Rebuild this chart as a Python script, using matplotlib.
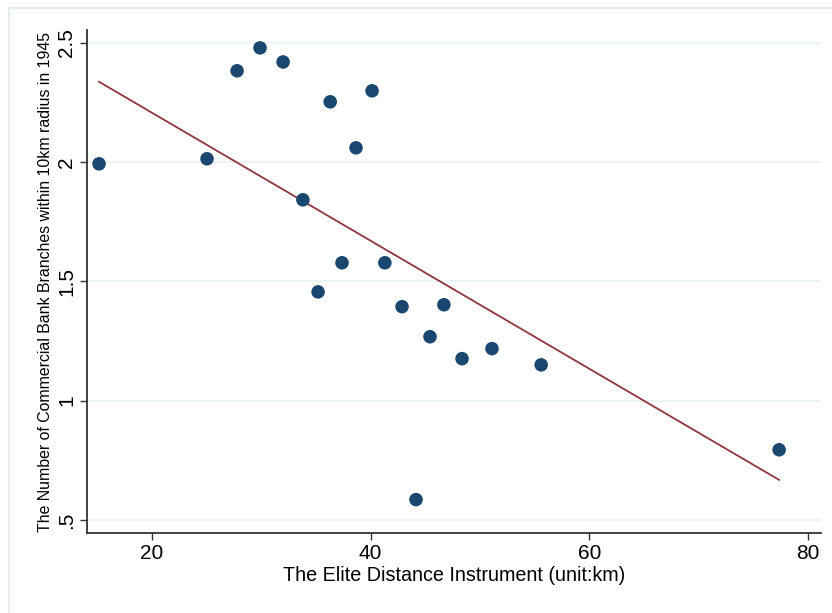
import numpy as np
import matplotlib.pyplot as plt
from matplotlib.patches import Rectangle

plt.rcParams['font.family'] = ['Liberation Sans', 'DejaVu Sans']

# elite distance instrument (km) and number of bank branches in 1945
distance = [15.15, 25.03, 27.78, 29.88, 31.99, 33.80, 35.19, 36.30, 37.38, 38.66,
            40.13, 41.30, 42.87, 44.15, 45.43, 46.70, 48.36, 51.10, 55.60, 77.37]
branches = [1.993, 2.014, 2.383, 2.479, 2.420, 1.842, 1.456, 2.253, 1.578, 2.060,
            2.299, 1.578, 1.394, 0.585, 1.268, 1.402, 1.176, 1.218, 1.150, 0.794]

# fitted line (intercept, slope)
fit_intercept = 2.7435
fit_slope = -0.02683

yticks = [0.5, 1, 1.5, 2, 2.5]
ytick_labels = ['.5', '1', '1.5', '2', '2.5']
xticks = [20, 40, 60, 80]

x = np.array(distance)
y = np.array(branches)
xfit = np.array([x.min(), x.max()])

fig = plt.figure(figsize=(8.32, 6.13), dpi=100)
ax = fig.add_axes([87 / 832, 1 - 533 / 613, (821 - 87) / 832, (533 - 30) / 613])

# outer frame of the graph region (only top and left edges show)
fig.patches.append(Rectangle((9 / 832, -0.05), 1.0, 1 - 8 / 613 + 0.05, transform=fig.transFigure,
                             fill=False, edgecolor='#e6edf0', lw=1.5))

for t in yticks:
    ax.axhline(t, color='#eaf2f3', lw=1.2, zorder=0)

ax.scatter(x, y, s=95, color='#1a476f', edgecolors='none', zorder=3)
ax.plot(xfit, fit_intercept + fit_slope * xfit, color='#90353b', lw=1.3, zorder=2)

ax.set_xlim(14.05, 81.2)
ax.set_ylim(0.445, 2.554)
ax.set_xticks(xticks)
ax.set_yticks(yticks)
ax.set_yticklabels(ytick_labels, rotation=90, va='center')
ax.tick_params(axis='both', labelsize=15, length=5, width=1, color='#333333')
ax.tick_params(axis='x', pad=3)
ax.tick_params(axis='y', pad=3)

ax.spines['top'].set_visible(False)
ax.spines['right'].set_visible(False)
ax.spines['left'].set_color('#333333')
ax.spines['bottom'].set_color('#333333')
ax.spines['left'].set_linewidth(1.3)
ax.spines['bottom'].set_linewidth(1.3)

ax.set_xlabel('The Elite Distance Instrument (unit:km)', fontsize=14.2, labelpad=2)
ax.set_ylabel('The Number of Commercial Bank Branches within 10km radius in 1945', fontsize=11.4, labelpad=3)

fig.savefig('out.png', dpi=100)
